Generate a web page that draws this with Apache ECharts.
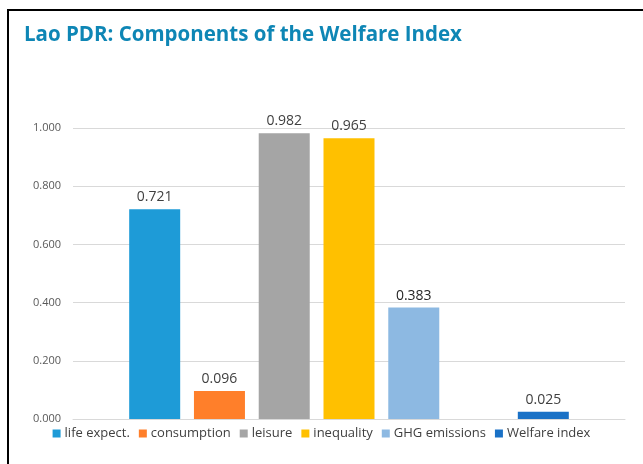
<!DOCTYPE html>
<html><head><meta charset="utf-8">
<script src="https://cdn.jsdelivr.net/npm/echarts@6/dist/echarts.min.js"></script>
<style>html,body{margin:0;padding:0;background:#fff}#c{width:643px;height:464px}</style>
</head><body><div id="c"></div>
<script>
const categories = ['Lao PDR'];
const seriesNames = ['life expect.', 'consumption', 'leisure', 'inequality', 'GHG emissions', '', 'Welfare index'];
const seriesValues = [0.721, 0.096, 0.982, 0.965, 0.383, null, 0.025];
const seriesColors = ['#1E9BD7', '#FF7F2A', '#A5A5A5', '#FFC000', '#8DB9E2', '#ffffff', '#1A71C6'];
const yTicks = [0, 0.2, 0.4, 0.6, 0.8, 1.0];

const chart = echarts.init(document.getElementById('c'));
const series = seriesNames.map((n, i) => ({
  type: 'bar',
  name: n,
  data: [seriesValues[i]],
  barWidth: 51,
  barGap: '27%',
  itemStyle: { color: seriesColors[i] },
  label: {
    show: seriesValues[i] !== null,
    position: 'top',
    distance: 5,
    fontFamily: 'Open Sans',
    fontSize: 14,
    color: i === 4 ? '#262626' : '#404040',
    formatter: p => p.value.toFixed(3)
  }
}));
chart.setOption({
  animation: false,
  title: {
    text: 'Lao PDR: Components of the Welfare Index',
    left: 19, top: 20,
    textStyle: { fontFamily: 'Open Sans', fontWeight: 'bold', fontSize: 20.5, color: '#0E86B5' }
  },
  graphic: [
    { type: 'rect', shape: { x: 7, y: 9, width: 640, height: 2 }, style: { fill: '#000' } },
    { type: 'rect', shape: { x: 7, y: 9, width: 2, height: 460 }, style: { fill: '#000' } }
  ],
  legend: {
    data: seriesNames.filter(n => n !== ''),
    left: 'center', top: 422,
    itemWidth: 8, itemHeight: 8, itemGap: 9,
    icon: 'rect',
    textStyle: { fontFamily: 'Open Sans', fontSize: 13, color: '#404040', padding: [0, 0, 0, -1] }
  },
  grid: { left: 73, right: 18, top: 128, bottom: 45 },
  xAxis: {
    type: 'category', data: categories,
    axisLine: { lineStyle: { color: '#d9d9d9' } },
    axisTick: { show: false }, axisLabel: { show: false }
  },
  yAxis: {
    type: 'value', min: 0, max: 1.0, interval: 0.2,
    axisLine: { show: false }, axisTick: { show: false },
    splitLine: { lineStyle: { color: '#d9d9d9' } },
    axisLabel: { fontFamily: 'Open Sans', fontSize: 11, color: '#595959', margin: 12,
      formatter: v => v.toFixed(3) }
  },
  series: series
});
</script></body></html>
